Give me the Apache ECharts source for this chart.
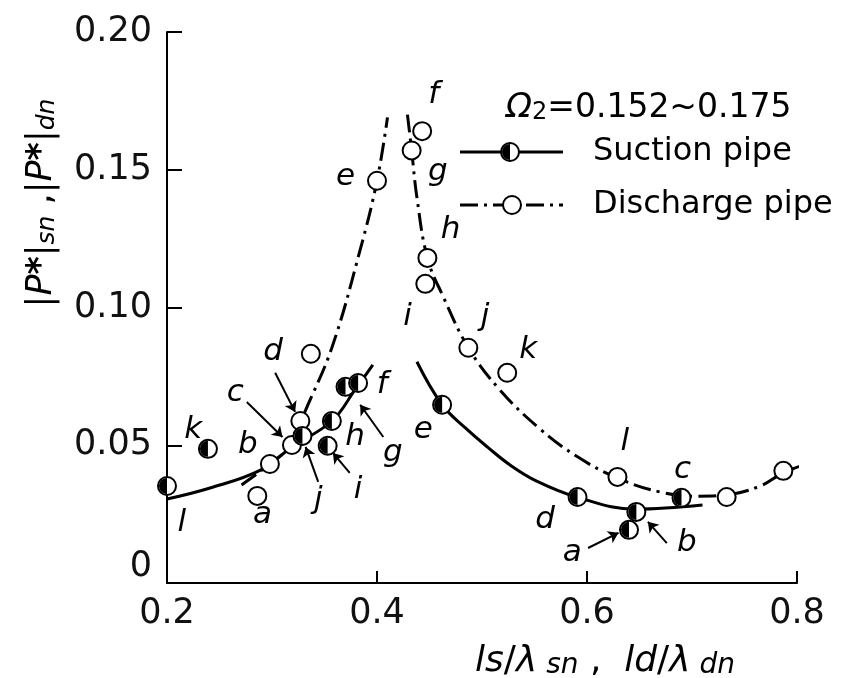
<!DOCTYPE html>
<html><head><meta charset="utf-8">
<script src="https://cdn.jsdelivr.net/npm/echarts@6.0.0/dist/echarts.min.js"></script>
<style>html,body{margin:0;padding:0;background:#fff}#c{width:854px;height:678px}</style>
</head><body><div id="c"></div><script>
// ---- data ----
const xTicks = [0.2, 0.4, 0.6, 0.8];
const yTicks = [0, 0.05, 0.10, 0.15, 0.20];

// measured points, suction pipe (half-filled markers)
const suctionNames = ['l', 'k', 'j', 'i', 'h', 'g', 'f', 'e', 'd', 'a', 'b', 'c'];
const suctionX = [0.200, 0.239, 0.329, 0.353, 0.357, 0.370, 0.382, 0.462, 0.591, 0.640, 0.647, 0.690];
const suctionY = [0.0352, 0.0487, 0.0534, 0.0498, 0.0588, 0.0712, 0.0726, 0.0647, 0.0312, 0.0193, 0.0258, 0.0309];

// measured points, discharge pipe (open markers)
const dischargeNames = ['a', 'b', 'c', 'd', '', 'e', 'f', 'g', 'h', 'i', 'j', 'k', 'l', '', ''];
const dischargeX = [0.286, 0.298, 0.319, 0.327, 0.337, 0.400, 0.443, 0.433, 0.448, 0.446, 0.487, 0.524, 0.629, 0.733, 0.787];
const dischargeY = [0.0316, 0.0432, 0.0501, 0.0588, 0.0832, 0.146, 0.164, 0.157, 0.118, 0.1086, 0.0854, 0.0763, 0.0385, 0.0312, 0.0407];

// fitted curves
const suctionCurveLeftX = [0.200, 0.241, 0.289, 0.319, 0.357, 0.379, 0.396];
const suctionCurveLeftY = [0.0305, 0.0345, 0.0410, 0.0494, 0.0588, 0.0701, 0.0792];
const suctionCurveRightX = [0.438, 0.462, 0.485, 0.505, 0.528, 0.552, 0.590, 0.646, 0.710];
const suctionCurveRightY = [0.0803, 0.0647, 0.0560, 0.0494, 0.0425, 0.0370, 0.0312, 0.0268, 0.0283];
const dischargeCurveLeftX = [0.271, 0.298, 0.319, 0.331, 0.357, 0.384, 0.400, 0.410];
const dischargeCurveLeftY = [0.0356, 0.0432, 0.0505, 0.0618, 0.0854, 0.121, 0.146, 0.169];
const dischargeCurveRightX = [0.429, 0.433, 0.438, 0.448, 0.463, 0.487, 0.517, 0.555, 0.591, 0.629, 0.670, 0.705, 0.733, 0.765, 0.787, 0.812];
const dischargeCurveRightY = [0.170, 0.157, 0.140, 0.118, 0.104, 0.0854, 0.0701, 0.0560, 0.0458, 0.0381, 0.0330, 0.0315, 0.0320, 0.0352, 0.0400, 0.0436];

const legendNames = ['Suction pipe', 'Discharge pipe'];
const conditionText = '0.152~0.175';

// ---- annotation placement (data units) ----
const suctionLabelAt = [[0.214,0.0218],[0.225,0.0556],[0.344,0.0301],[0.382,0.0338],[0.379,0.0530],[0.415,0.0472],[0.405,0.0719],[0.444,0.0556],[0.560,0.0229],[0.586,0.0109],[0.695,0.0145],[0.691,0.0410]];
const dischargeLabelAt = [[0.291,0.0247],[0.277,0.0501],[0.265,0.0690],[0.301,0.0839],null,[0.370,0.1475],[0.454,0.1773],[0.458,0.1493],[0.470,0.1282],[0.429,0.0966],[0.503,0.0966],[0.544,0.0846],[0.636,0.0512],null,null];
const arrows = [
  [[0.344,0.0367],[0.332,0.0494]],
  [[0.374,0.0400],[0.358,0.0472]],
  [[0.406,0.0530],[0.384,0.0647]],
  [[0.601,0.0127],[0.630,0.0182]],
  [[0.676,0.0145],[0.658,0.0222]],
  [[0.276,0.0657],[0.310,0.0530]],
  [[0.303,0.0763],[0.322,0.0621]]
];

// ---- build ----
const F = "'DejaVu Sans', sans-serif";
const zip = (xs, ys) => xs.map((x, i) => [x, ys[i]]);
const DASHDOT = [18, 6, 3, 6];
const HALF = 'path://M10,0 A10,10 0 0 0 10,20 Z';
const MS = 18;

const labelData = [];
suctionNames.forEach((n, i) => { if (suctionLabelAt[i]) labelData.push({ name: n, value: suctionLabelAt[i] }); });
dischargeNames.forEach((n, i) => { if (n && dischargeLabelAt[i]) labelData.push({ name: n, value: dischargeLabelAt[i] }); });

const chart = echarts.init(document.getElementById('c'), null, { renderer: 'canvas' });
const curve = (xs, ys, dashed) => ({
  type: 'line', data: zip(xs, ys), smooth: 0.4, showSymbol: false, symbol: 'none', clip: false, z: 2,
  lineStyle: { color: '#000', width: 3, type: dashed ? DASHDOT : 'solid', cap: 'butt', opacity: 1 },
  emphasis: { disabled: true }, silent: true
});

chart.setOption({
  animation: false,
  backgroundColor: '#fff',
  grid: { left: 167, right: 57, top: 32, bottom: 95, containLabel: false },
  xAxis: {
    type: 'value', min: xTicks[0], max: xTicks[xTicks.length - 1], interval: 0.2,
    axisLine: { lineStyle: { color: '#000', width: 2 } },
    axisTick: { inside: true, length: 12, lineStyle: { color: '#000', width: 2 } },
    axisLabel: { fontSize: 35, color: '#111', margin: 13, fontFamily: F, formatter: v => String(+v.toFixed(1)) },
    splitLine: { show: false }
  },
  yAxis: {
    type: 'value', min: yTicks[0], max: yTicks[yTicks.length - 1], interval: 0.05,
    axisLine: { show: true, lineStyle: { color: '#000', width: 2 } },
    axisTick: { show: true, inside: true, length: 15, lineStyle: { color: '#000', width: 2 } },
    axisLabel: {
      fontSize: 35, color: '#111', margin: 15, fontFamily: F,
      formatter: v => Math.abs(v) < 1e-9 ? '{z|0}' : v.toFixed(2),
      rich: { z: { fontSize: 35, fontFamily: F, color: '#111', padding: [0, 0, 32, 0] } }
    },
    splitLine: { show: false }
  },
  series: [
    curve(suctionCurveLeftX, suctionCurveLeftY, false),
    curve(suctionCurveRightX, suctionCurveRightY, false),
    curve(dischargeCurveLeftX, dischargeCurveLeftY, true),
    curve(dischargeCurveRightX, dischargeCurveRightY, true),
    {
      type: 'scatter', data: zip(dischargeX, dischargeY), symbol: 'circle', symbolSize: MS, z: 5,
      itemStyle: { color: '#fff', borderColor: '#000', borderWidth: 2, opacity: 1 }, silent: true
    },
    {
      type: 'scatter', data: zip(suctionX, suctionY), symbol: 'circle', symbolSize: MS, z: 6,
      itemStyle: { color: '#fff', borderColor: '#000', borderWidth: 2, opacity: 1 }, silent: true
    },
    {
      type: 'scatter', data: zip(suctionX, suctionY), symbol: HALF, symbolSize: [MS / 2 - 1, MS - 2], symbolOffset: [-(MS / 2 - 1) / 2, 0], z: 7,
      itemStyle: { color: '#000', opacity: 1 }, silent: true
    },
    {
      type: 'scatter', data: labelData, symbolSize: 0, z: 8, silent: true,
      itemStyle: { opacity: 1 },
      label: { show: true, position: 'inside', formatter: p => p.name, fontSize: 31, fontStyle: 'italic', fontFamily: F, color: '#000', opacity: 1 }
    },
    {
      type: 'lines', coordinateSystem: 'cartesian2d', z: 8, silent: true,
      symbol: ['none', 'arrow'], symbolSize: [0, 10],
      lineStyle: { color: '#000', width: 2, opacity: 1, curveness: 0 },
      data: arrows.map(a => ({ coords: a }))
    }
  ],
  graphic: [
    // y axis title
    { type: 'text', x: 42, y: 203, rotation: Math.PI / 2, silent: true,
      style: {
        text: '{n||}{i|P}{st|*}{n||}{s|sn}{n| ,|}{i|P}{st|*}{n||}{s|dn}',
        fill: '#000', align: 'center', verticalAlign: 'middle', fontFamily: F,
        rich: {
          n: { fontSize: 35, fontFamily: F, fill: '#000' },
          i: { fontSize: 35, fontFamily: F, fontStyle: 'italic', fill: '#000' },
          st: { fontSize: 35, fontFamily: F, fontWeight: 'bold', fill: '#000', verticalAlign: 'top' },
          s: { fontSize: 25, fontFamily: F, fontStyle: 'italic', fill: '#000', verticalAlign: 'bottom' }
        }
      } },
    // x axis title
    { type: 'text', x: 605, y: 662, silent: true,
      style: {
        text: '{i|ls}{n|/}{i|λ}{s| sn}{n| ,  }{i|ld}{n|/}{i|λ}{s| dn}',
        align: 'center', verticalAlign: 'middle', fontFamily: F, fill: '#000',
        rich: {
          n: { fontSize: 36, fontFamily: F, fill: '#000' },
          i: { fontSize: 36, fontFamily: F, fontStyle: 'italic', fill: '#000' },
          s: { fontSize: 28, fontFamily: F, fontStyle: 'italic', fill: '#000', verticalAlign: 'bottom' }
        }
      } },
    // legend block
    { type: 'text', x: 506, y: 108, silent: true,
      style: {
        text: '{o|Ω}{s|2}{n|=' + conditionText + '}', verticalAlign: 'middle', fill: '#000', fontFamily: F,
        rich: {
          o: { fontSize: 34, fontFamily: F, fontStyle: 'italic', fill: '#000' },
          s: { fontSize: 24, fontFamily: F, fill: '#000', verticalAlign: 'bottom' },
          n: { fontSize: 33, fontFamily: F, fill: '#000' }
        }
      } },
    { type: 'line', silent: true, shape: { x1: 460, y1: 152, x2: 563, y2: 152 }, style: { stroke: '#000', lineWidth: 3 } },
    { type: 'circle', silent: true, shape: { cx: 510, cy: 152, r: 9 }, style: { fill: '#fff', stroke: '#000', lineWidth: 2 } },
    { type: 'sector', silent: true, shape: { cx: 510, cy: 152, r: 8, r0: 0, startAngle: Math.PI / 2, endAngle: Math.PI * 1.5, clockwise: true }, style: { fill: '#000' } },
    { type: 'text', silent: true, x: 593, y: 152, style: { text: legendNames[0], fontSize: 32, fontFamily: F, fill: '#000', verticalAlign: 'middle' } },
    { type: 'line', silent: true, shape: { x1: 460, y1: 205, x2: 563, y2: 205 }, style: { stroke: '#000', lineWidth: 3, lineDash: DASHDOT } },
    { type: 'circle', silent: true, shape: { cx: 512, cy: 205, r: 9 }, style: { fill: '#fff', stroke: '#000', lineWidth: 2 } },
    { type: 'text', silent: true, x: 593, y: 205, style: { text: legendNames[1], fontSize: 32, fontFamily: F, fill: '#000', verticalAlign: 'middle' } }
  ]
});
</script></body></html>
